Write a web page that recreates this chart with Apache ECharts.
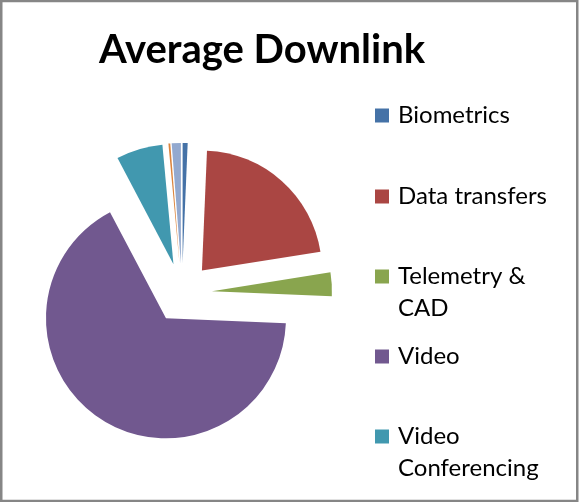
<!DOCTYPE html>
<html>
<head>
<meta charset="utf-8">
<script src="https://cdn.jsdelivr.net/npm/echarts@6/dist/echarts.min.js"></script>
<style>
  html, body { margin: 0; padding: 0; background: #fff; }
  #chart { width: 579px; height: 502px; }
</style>
</head>
<body>
<div id="chart"></div>
<script>
// Share of average downlink traffic per application (percent)
const categories = ['Biometrics', 'Data transfers', 'Telemetry & CAD', 'Video', 'Video Conferencing', 'Voice', 'Other'];
const shares = [0.67, 21.8, 3.19, 66.6, 6.25, 0.25, 1.22];
const colors = ['#4572A7', '#AA4643', '#89A54E', '#71588F', '#4198AF', '#DB843D', '#93A9CF'];
// Only the first five entries fit in the legend column
const legendNames = categories.slice(0, 5);
const legendLabels = ['Biometrics', 'Data transfers', 'Telemetry &\nCAD', 'Video', 'Video\nConferencing'];
const legendIconCenters = [115.5, 196.5, 276.5, 356.5, 436.5];

const FONT = 'Lato';
const LINE_H = 32;

const legends = legendNames.map((name, i) => {
  const lines = legendLabels[i].split('\n').length;
  // A leading blank line per wrapped line keeps the first text line level with the swatch
  const label = '\n'.repeat(lines - 1) + legendLabels[i];
  const boxH = (2 * lines - 1) * LINE_H;
  return {
    data: [name],
    left: 375,
    top: legendIconCenters[i] - boxH / 2,
    padding: 0,
    itemWidth: 14,
    itemHeight: 14,
    icon: 'rect',
    selectedMode: false,
    formatter: () => label,
    textStyle: {
      fontFamily: FONT,
      fontSize: 24,
      color: '#000',
      lineHeight: LINE_H,
      padding: [0, 0, 0, 4]
    }
  };
});

const chart = echarts.init(document.getElementById('chart'), null, { renderer: 'canvas' });
chart.setOption({
  animation: false,
  backgroundColor: '#fff',
  title: {
    text: 'Average Downlink',
    left: 262,
    top: 30,
    textAlign: 'center',
    padding: 0,
    textStyle: {
      fontFamily: FONT,
      fontWeight: 'bold',
      fontSize: 40,
      color: '#000'
    }
  },
  legend: legends,
  graphic: [{
    type: 'rect',
    shape: { x: 1.25, y: 1.1, width: 576, height: 499.8 },
    style: { fill: 'none', stroke: '#868686', lineWidth: 2.5 },
    silent: true
  }],
  series: [{
    type: 'pie',
    center: [182, 293],
    radius: 120,
    startAngle: 90,
    clockwise: true,
    selectedMode: 'multiple',
    selectedOffset: 30,
    avoidLabelOverlap: false,
    label: { show: false },
    labelLine: { show: false },
    emphasis: { disabled: true },
    itemStyle: { borderWidth: 0 },
    data: categories.map((name, i) => ({
      name: name,
      value: shares[i],
      selected: true,
      itemStyle: { color: colors[i] },
      select: { itemStyle: { color: colors[i], borderWidth: 0 } }
    }))
  }]
});
</script>
</body>
</html>
